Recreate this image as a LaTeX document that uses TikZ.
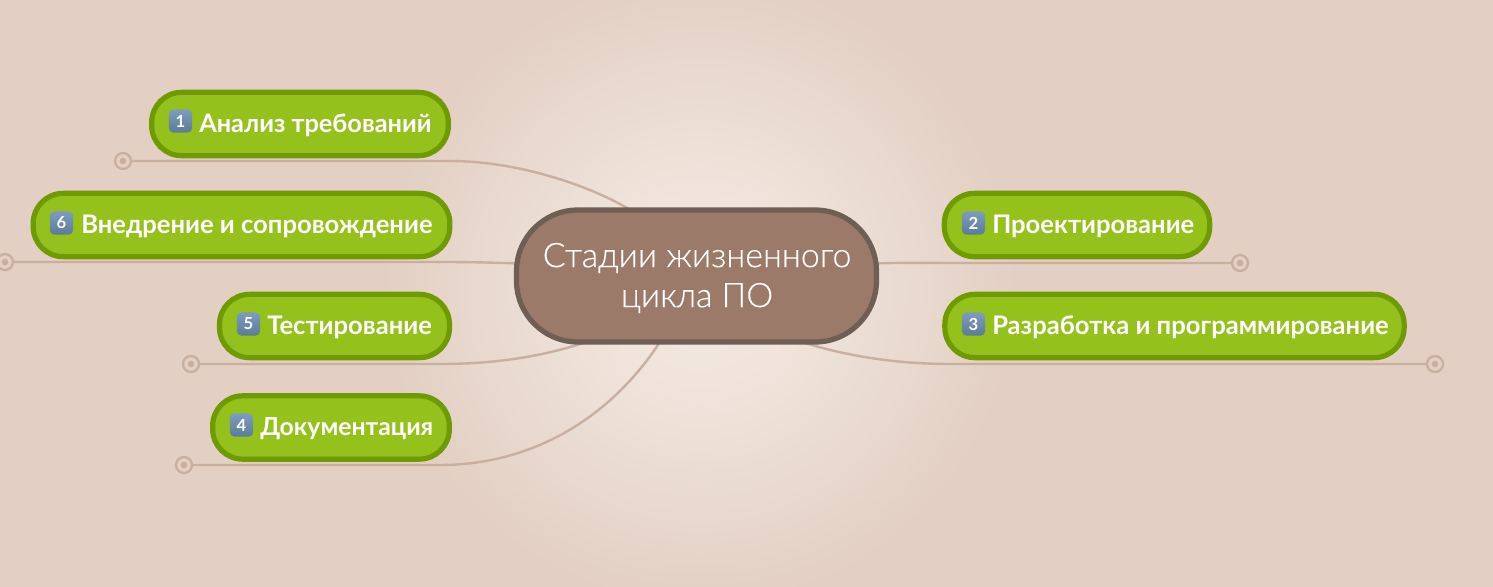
\documentclass[tikz,border=0pt]{standalone}
\usepackage{fontspec}
\setmainfont{Lato}
\newfontfamily\lightfont[FakeBold=0.25]{Lato Light}
\usetikzlibrary{backgrounds}
\definecolor{bgc}{HTML}{E3CFC3}
\definecolor{glow}{HTML}{F5EBE5}
\definecolor{glowmid}{HTML}{EDE0D7}
\definecolor{linec}{HTML}{C9AF9F}
\definecolor{gfill}{HTML}{95C11C}
\definecolor{gline}{HTML}{6F9A00}
\definecolor{cfill}{HTML}{9B7A69}
\definecolor{cline}{HTML}{6F5E53}
\definecolor{keytop}{HTML}{7F9CC0}
\definecolor{keybot}{HTML}{5A7C96}
\pgfdeclareradialshading{glowshade}{\pgfpoint{0bp}{0bp}}{color(0bp)=(glow); color(4.5bp)=(glowmid); color(10bp)=(bgc); color(50bp)=(bgc)}
\pgfdeclarelayer{conn}
\pgfdeclarelayer{back}
\pgfsetlayers{back,conn,main}
\tikzset{
  x=0.75pt,y=-0.75pt,
  topic/.style={draw=gline,fill=gfill,line width=3.9pt,rounded corners=22.5pt,minimum height=47.5pt,inner sep=0pt,outer sep=0pt,anchor=center},
  topiclabel/.style={font=\bfseries\fontsize{19.2}{23}\selectfont,text=white,inner sep=0pt,anchor=base west},
  keycap/.style={top color=keytop,bottom color=keybot,rounded corners=3.5pt,minimum size=17.5pt,inner sep=0pt,text=white,font=\bfseries\fontsize{12.5}{13}\selectfont},
  central/.style={draw=cline,fill=cfill,line width=3.9pt,rounded corners=46pt,minimum width=270pt,minimum height=99pt,inner sep=0pt,outer sep=0pt},
  centrallabel/.style={inner sep=0pt,align=center,text=white,font=\fontsize{25.5}{30}\selectfont\lightfont},
  endring/.style={circle,draw=linec,line width=1.7pt,minimum size=12pt,inner sep=0pt,fill=bgc,path picture={\fill[linec] (path picture bounding box.center) circle (2.5pt);}},
  link/.style={draw=linec,line width=1.8pt}
}
\begin{document}
\begin{tikzpicture}
\useasboundingbox (0,0) rectangle (1493,586);
\begin{pgfonlayer}{back}
\clip (0,0) rectangle (1493,586);
\fill[bgc] (0,0) rectangle (1493,586);
\shade[shading=glowshade] (-100,-510) rectangle (1500,1090);
\end{pgfonlayer}

\node[central] (c) at (696.5,276) {};
\node[centrallabel] (cl) at (697,278) {Стадии жизненного\\цикла ПО};

\node[topic,minimum width=222.5pt] (t1) at (300,124) {};
\node[topic,minimum width=312.5pt] (t6) at (241.5,225) {};
\node[topic,minimum width=172.5pt] (t5) at (334.5,326) {};
\node[topic,minimum width=177.5pt] (t4) at (331,427.5) {};
\node[topic,minimum width=199pt] (t2) at (1077,225) {};
\node[topic,minimum width=344.5pt] (t3) at (1174.5,326) {};

\node[keycap] (k1) at (180.5,121) {1};
\node[keycap] (k6) at (61.5,223) {6};
\node[keycap] (k5) at (248.5,324) {5};
\node[keycap] (k4) at (241.5,425) {4};
\node[keycap] (k2) at (973.5,223) {2};
\node[keycap] (k3) at (973.5,324) {3};

\node[topiclabel] (l1) at (199,132) {\fontsize{19}{23}\selectfont Анализ требований};
\node[topiclabel] (l6) at (81,233) {Внедрение и сопровождение};
\node[topiclabel] (l5) at (267,334) {Тестирование};
\node[topiclabel] (l4) at (260,435) {\fontsize{18.6}{23}\selectfont Документация};
\node[topiclabel] (l2) at (992,233) {Проектирование};
\node[topiclabel] (l3) at (992,334) {Разработка и программирование};

\node[endring] (e1) at (123,161) {};
\node[endring] (e6) at (5,262) {};
\node[endring] (e5) at (191,364) {};
\node[endring] (e4) at (184,465) {};
\node[endring] (e2) at (1240,263) {};
\node[endring] (e3) at (1435,364) {};

\begin{pgfonlayer}{conn}
\draw[link] (c.135) .. controls +(-38,-23) and (520,161) .. (450,161) -- (e1);
\draw[link] (c.176) .. controls +(-30,-1) and (470,262) .. (440,262) -- (e6);
\draw[link] (c.211.7) .. controls +(-49,16) and (490,364) .. (440,364) -- (e5);
\draw[link] (c.241.8) .. controls +(-51,78) and (530,465) .. (440,465) -- (e4);
\draw[link] (c.4) .. controls +(30,-1) and (930,263) .. (960,263) -- (e2);
\draw[link] (c.328.3) .. controls +(47,15) and (900,364) .. (950,364) -- (e3);
\end{pgfonlayer}
\end{tikzpicture}
\end{document}
